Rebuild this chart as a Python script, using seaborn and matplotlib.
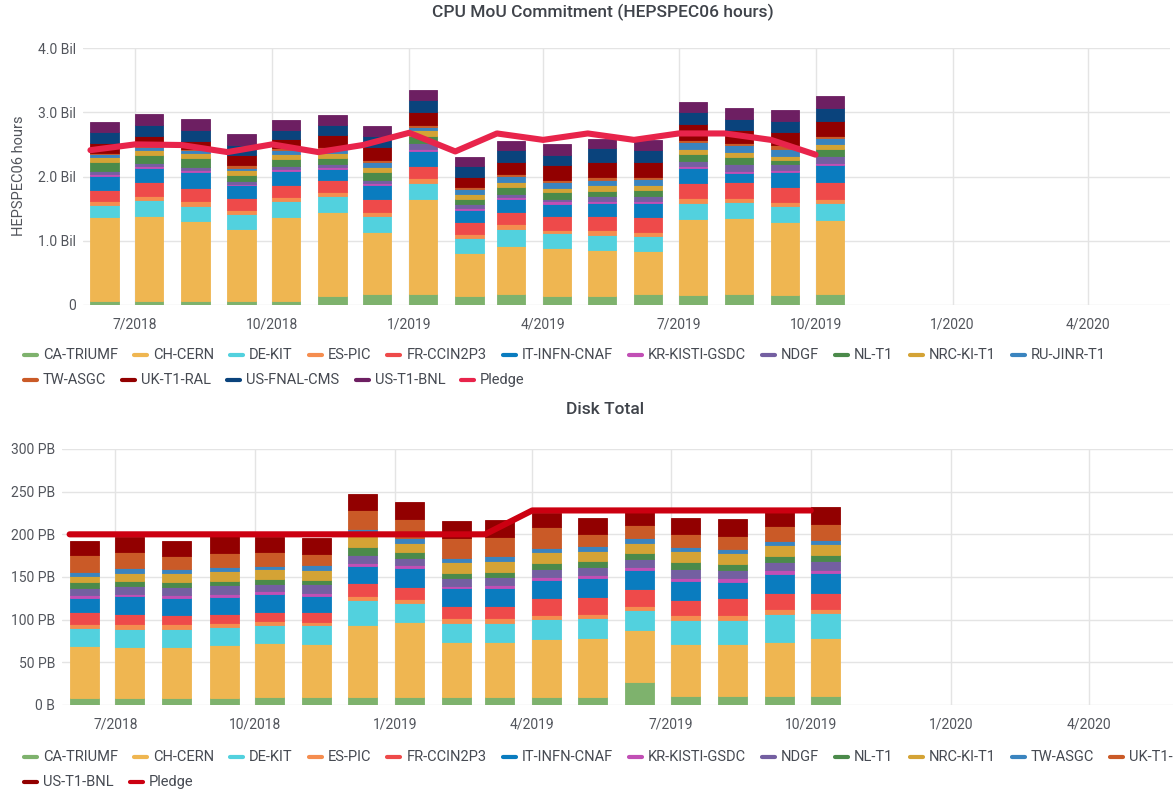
import numpy as np
import pandas as pd
import seaborn as sns
import matplotlib.pyplot as plt
import matplotlib.dates as mdates
from matplotlib.lines import Line2D
from matplotlib.transforms import IdentityTransform
from matplotlib import font_manager

# months (bar timestamps, first of month)
months = ['2018-06-01', '2018-07-01', '2018-08-01', '2018-09-01', '2018-10-01', '2018-11-01',
          '2018-12-01', '2019-01-01', '2019-02-01', '2019-03-01', '2019-04-01', '2019-05-01',
          '2019-06-01', '2019-07-01', '2019-08-01', '2019-09-01', '2019-10-01']
xticks = ['2018-07-01', '2018-10-01', '2019-01-01', '2019-04-01',
          '2019-07-01', '2019-10-01', '2020-01-01', '2020-04-01']

# ---- CPU MoU commitment, billions of HEPSPEC06 hours ----
cpu_sites = ['CA-TRIUMF', 'CH-CERN', 'DE-KIT', 'ES-PIC', 'FR-CCIN2P3', 'IT-INFN-CNAF',
             'KR-KISTI-GSDC', 'NDGF', 'NL-T1', 'NRC-KI-T1', 'RU-JINR-T1', 'TW-ASGC',
             'UK-T1-RAL', 'US-FNAL-CMS', 'US-T1-BNL']
cpu_ca = [0.067, 0.07, 0.07, 0.06, 0.067, 0.145, 0.17, 0.165, 0.145, 0.17, 0.145, 0.145, 0.165, 0.155, 0.17, 0.155, 0.17]
cpu_cern = [1.295, 1.31, 1.24, 1.13, 1.31, 1.31, 0.96, 1.48, 0.67, 0.75, 0.735, 0.71, 0.67, 1.18, 1.186, 1.13, 1.16]
cpu_de = [0.187, 0.25, 0.23, 0.23, 0.235, 0.245, 0.25, 0.26, 0.23, 0.26, 0.233, 0.233, 0.233, 0.254, 0.249, 0.254, 0.26]
cpu_es = [0.07, 0.07, 0.075, 0.06, 0.075, 0.055, 0.067, 0.078, 0.062, 0.073, 0.062, 0.078, 0.067, 0.078, 0.067, 0.067, 0.057]
cpu_fr = [0.17, 0.21, 0.21, 0.18, 0.18, 0.19, 0.2, 0.18, 0.19, 0.2, 0.207, 0.22, 0.233, 0.233, 0.243, 0.233, 0.26]
cpu_it = [0.22, 0.22, 0.24, 0.2, 0.22, 0.17, 0.22, 0.24, 0.18, 0.19, 0.197, 0.2, 0.218, 0.233, 0.14, 0.233, 0.27]
cpu_kr = [0.025, 0.03, 0.04, 0.03, 0.035, 0.03, 0.035, 0.03, 0.036, 0.04, 0.036, 0.03, 0.03, 0.03, 0.036, 0.036, 0.036]
cpu_ndgf = [0.057, 0.05, 0.05, 0.045, 0.04, 0.057, 0.04, 0.088, 0.057, 0.05, 0.04, 0.078, 0.078, 0.078, 0.1, 0.083, 0.1]
cpu_nl = [0.135, 0.125, 0.135, 0.09, 0.115, 0.093, 0.13, 0.11, 0.078, 0.1, 0.1, 0.088, 0.1, 0.114, 0.114, 0.062, 0.11]
cpu_nrc = [0.078, 0.08, 0.07, 0.08, 0.08, 0.078, 0.078, 0.088, 0.073, 0.083, 0.067, 0.078, 0.067, 0.078, 0.078, 0.067, 0.078]
cpu_ru = [0.04, 0.04, 0.05, 0.035, 0.05, 0.05, 0.078, 0.05, 0.078, 0.093, 0.1, 0.093, 0.1, 0.1, 0.1, 0.114, 0.1]
cpu_tw = [0.025, 0.02, 0.02, 0.035, 0.035, 0.035, 0.025, 0.04, 0.03, 0.036, 0.03, 0.036, 0.036, 0.04, 0.036, 0.05, 0.036]
cpu_uk = [0.15, 0.155, 0.13, 0.155, 0.145, 0.19, 0.2, 0.2, 0.166, 0.18, 0.228, 0.24, 0.233, 0.243, 0.197, 0.207, 0.233]
cpu_fnal = [0.17, 0.165, 0.17, 0.16, 0.14, 0.155, 0.18, 0.176, 0.166, 0.18, 0.16, 0.207, 0.187, 0.19, 0.18, 0.17, 0.19]
cpu_bnl = [0.155, 0.17, 0.165, 0.165, 0.16, 0.155, 0.155, 0.16, 0.145, 0.155, 0.16, 0.155, 0.15, 0.155, 0.166, 0.176, 0.197]
cpu_pledge = [2.41, 2.5, 2.49, 2.38, 2.5, 2.38, 2.49, 2.68, 2.39, 2.67, 2.57, 2.67, 2.57, 2.67, 2.67, 2.57, 2.34]

# ---- Disk total, PB ----
disk_sites = ['CA-TRIUMF', 'CH-CERN', 'DE-KIT', 'ES-PIC', 'FR-CCIN2P3', 'IT-INFN-CNAF',
              'KR-KISTI-GSDC', 'NDGF', 'NL-T1', 'NRC-KI-T1', 'TW-ASGC', 'UK-T1-RAL', 'US-T1-BNL']
disk_ca = [8, 8, 8, 8, 8.8, 8.8, 9.6, 9.6, 9.6, 9.6, 9.6, 9.6, 27.3, 10, 10, 10, 10]
disk_cern = [61, 60.4, 60.4, 62.3, 64.2, 63, 83.8, 87.7, 64.6, 64.6, 67.3, 68.5, 60.4, 61.5, 61.5, 64.2, 68.8]
disk_de = [21, 21, 21, 21, 21, 21.5, 30, 22.3, 22.3, 22.3, 24.2, 24.2, 24.2, 28.5, 28.5, 32.7, 28.8]
disk_es = [4.6, 5, 5, 5, 4.2, 3.8, 4.6, 4.6, 5.4, 5.4, 4.6, 4.6, 4.6, 5, 5.8, 5.8, 5]
disk_fr = [14, 12, 11, 10.4, 11, 11.5, 14.6, 14.6, 13.8, 13.8, 19.2, 19.2, 19.2, 18.5, 19.2, 18, 19.2]
disk_it = [17, 20.8, 20.4, 20, 20.4, 19.2, 20, 22, 21.2, 21.2, 21.2, 22.3, 22.3, 22, 19.6, 22.3, 23]
disk_kr = [3, 2.7, 3, 3, 3.8, 3.8, 3.8, 3, 2.7, 3.5, 3.8, 3.5, 3.5, 3.8, 3.8, 5, 3.8]
disk_ndgf = [8.5, 9.6, 9.6, 10.4, 8.8, 10.4, 9.6, 8.5, 9.2, 10, 9.6, 9.6, 9.6, 10.4, 9.6, 9.2, 9.6]
disk_nl = [6.5, 6, 5.4, 5, 5.4, 5, 9.6, 6.5, 6.2, 5.8, 7, 7, 7, 7.7, 7.7, 7.7, 7.7]
disk_nrc = [8, 9.2, 10.4, 11.5, 11.5, 11.5, 17, 11.5, 12.3, 12.3, 12.3, 11.5, 12.3, 12.7, 12.3, 12.3, 12.3]
disk_tw = [4.6, 5.8, 5.4, 5, 4.2, 5, 3.5, 5, 5, 5.8, 5, 5.8, 5, 4.6, 5, 5.4, 5]
disk_uk = [19, 18.8, 15.4, 17, 16, 13.5, 22.3, 23, 23, 23, 25, 14.2, 15.4, 15.4, 15, 17, 18.5]
disk_bnl = [16.5, 17, 17.3, 19.2, 18, 19.2, 19.2, 19.2, 20, 20, 16.5, 19.6, 19.2, 19.2, 20.4, 16.5, 20]
disk_pledge = [200, 200, 200, 200, 200, 200, 200, 200, 200, 200, 228, 228, 228, 228, 228, 228, 228]

palette = ['#7EB26D', '#EFB651', '#52D1DE', '#F58D4F', '#EE4A4A', '#0A7CBF', '#C14FB5',
           '#745FA1', '#4B8A4A', '#D4A335', '#3A84BF', '#CA5A27', '#920000', '#0A437C', '#6D1F62']

cpu_data = dict(zip(cpu_sites, [cpu_ca, cpu_cern, cpu_de, cpu_es, cpu_fr, cpu_it, cpu_kr, cpu_ndgf,
                                cpu_nl, cpu_nrc, cpu_ru, cpu_tw, cpu_uk, cpu_fnal, cpu_bnl]))
disk_data = dict(zip(disk_sites, [disk_ca, disk_cern, disk_de, disk_es, disk_fr, disk_it, disk_kr,
                                  disk_ndgf, disk_nl, disk_nrc, disk_tw, disk_uk, disk_bnl]))

GRID = '#e4e4e4'
TXT = '#52555c'
W, H = 1173, 791

sns.set_theme(style="whitegrid")
plt.rcParams['font.family'] = ['Roboto', 'DejaVu Sans']

# title weight: medium if the font has it, else bold
weights = {f.weight for f in font_manager.fontManager.ttflist if f.name == 'Roboto'}
title_weight = 500 if 500 in weights or 'medium' in weights else 'bold'
title_size = 12.5 if title_weight == 500 else 11.6

fig = plt.figure(figsize=(W / 100, H / 100), dpi=100)
fig.patch.set_facecolor('white')
ax1 = fig.add_axes([83 / W, 1 - 305 / H, (1170 - 83) / W, (305 - 48) / H])
ax2 = fig.add_axes([62 / W, 1 - 705 / H, (1173 - 62) / W, (705 - 449) / H])

x = mdates.date2num(pd.to_datetime(months))


def draw_stack(ax, sites, data, pledge, pledge_color):
    bottom = np.zeros(len(x))
    for i, s in enumerate(sites):
        v = np.array(data[s], dtype=float)
        ax.bar(x, v, width=19, bottom=bottom, align='edge', color=palette[i],
               edgecolor=palette[i], linewidth=0.6, zorder=2)
        bottom += v
    sns.lineplot(x=x, y=pledge, ax=ax, color=pledge_color, linewidth=4.4, zorder=3)


def style_axis(ax, ymax, step, fmt):
    ax.set_facecolor('white')
    ax.set_xlim(mdates.date2num(pd.Timestamp('2018-05-27')), mdates.date2num(pd.Timestamp('2020-05-26')))
    ax.set_ylim(0, ymax)
    yt = np.arange(0, ymax + step / 2, step)
    ax.set_yticks(yt)
    ax.set_yticklabels([fmt(v) for v in yt])
    xt = pd.to_datetime(xticks)
    ax.set_xticks(mdates.date2num(xt))
    ax.set_xticklabels([f'{t.month}/{t.year}' for t in xt])
    ax.grid(True, color=GRID, linewidth=1)
    ax.set_axisbelow(True)
    for sp in ax.spines.values():
        sp.set_visible(False)
    ax.tick_params(axis='x', length=0, colors=TXT, labelsize=10, pad=9)
    ax.tick_params(axis='y', length=0, colors=TXT, labelsize=10, pad=5)
    ax.set_xlabel('')
    ax.set_ylabel('')


draw_stack(ax1, cpu_sites, cpu_data, cpu_pledge, '#E8244B')
style_axis(ax1, 4.0, 1.0, lambda v: '0' if v == 0 else f'{v:.1f} Bil')

draw_stack(ax2, disk_sites, disk_data, disk_pledge, '#CC0011')
style_axis(ax2, 300, 50, lambda v: '0 B' if v == 0 else f'{int(v)} PB')

px = IdentityTransform()
fig.text(603, H - 12, 'CPU MoU Commitment (HEPSPEC06 hours)', transform=px, ha='center', va='center',
         fontsize=title_size, fontweight=title_weight, color='#3f434a')
fig.text(605, H - 410, 'Disk Total', transform=px, ha='center', va='center',
         fontsize=title_size, fontweight=title_weight, color='#3f434a')
fig.text(19, H - 176, 'HEPSPEC06 hours', transform=px, rotation=90, ha='center', va='center',
         fontsize=10.5, color=TXT)


def draw_legend(names, colors, rows_y, per_row):
    r = fig.canvas.get_renderer()
    xpos = 22
    for i, (name, col) in enumerate(zip(names, colors)):
        if i == per_row:
            xpos = 22
        y = H - (rows_y[0] if i < per_row else rows_y[1])
        fig.add_artist(Line2D([xpos + 2, xpos + 15], [y, y], color=col, linewidth=3,
                              solid_capstyle='round', transform=px))
        t = fig.text(xpos + 21, y, name, transform=px, ha='left', va='center', fontsize=10.5, color='#464a52')
        xpos += 21 + t.get_window_extent(r).width + 14


draw_legend(cpu_sites + ['Pledge'], palette + ['#E8244B'], (355, 380), 11)
draw_legend(disk_sites + ['Pledge'], palette[:13] + ['#CC0011'], (757, 782), 12)

fig.savefig('out.png', dpi=100)
